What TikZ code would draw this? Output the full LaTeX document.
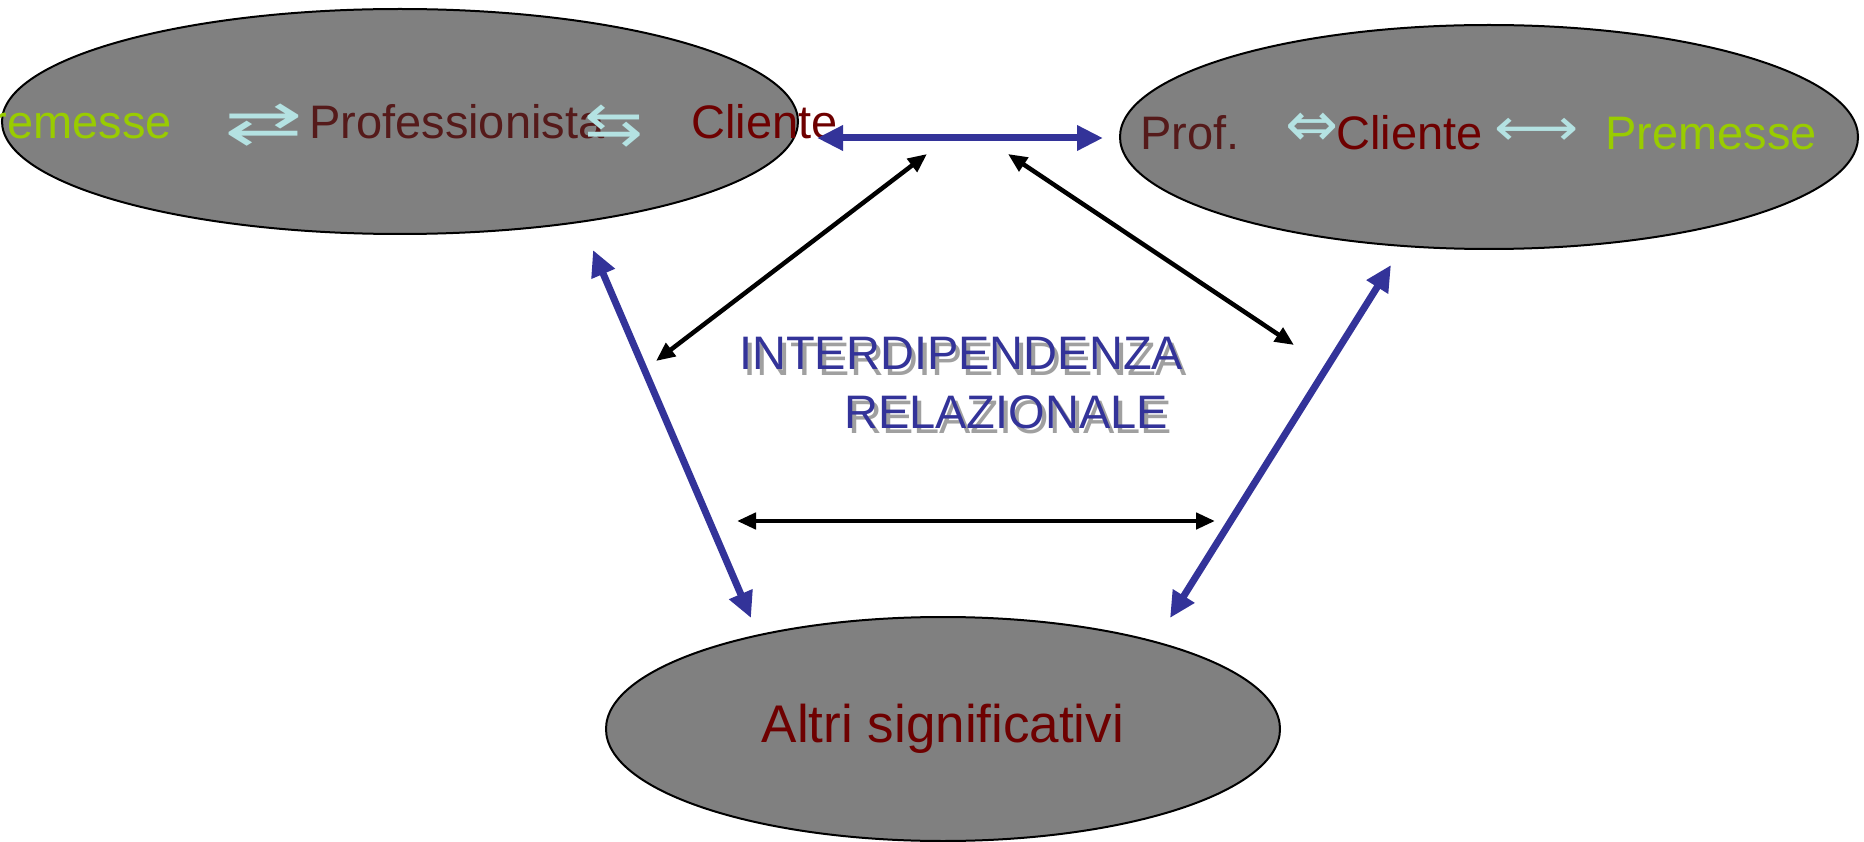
\documentclass[tikz,border=0pt]{standalone}
\usepackage{fontspec}
\setmainfont{Liberation Sans}
\newfontfamily\arrowfont{DejaVu Sans}
\usetikzlibrary{shapes.geometric}
\usetikzlibrary{arrows.meta}
\definecolor{ovalgray}{RGB}{128,128,128}
\definecolor{premgreen}{RGB}{153,204,0}
\definecolor{profred}{RGB}{85,26,26}
\definecolor{clired}{RGB}{110,0,0}
\definecolor{linkcyan}{RGB}{180,226,226}
\definecolor{relblue}{RGB}{51,51,153}
\definecolor{shadowgray}{RGB}{160,160,160}
\tikzset{
	oval/.style={ellipse, draw=black, line width=2pt, fill=ovalgray, inner sep=0pt},
	word/.style={anchor=base west, inner sep=0pt, font=\fontsize{47}{56}\selectfont},
	link/.style={inner sep=0pt, text=linkcyan, font=\arrowfont\fontsize{47}{56}\selectfont},
	bluelink/.style={draw=relblue, line width=7pt, {Triangle[length=26pt,width=24pt]}-{Triangle[length=26pt,width=24pt]}},
	blacklink/.style={draw=black, line width=4.5pt, {Triangle[length=19pt,width=16pt]}-{Triangle[length=19pt,width=16pt]}}
}
\begin{document}
\begin{tikzpicture}[x=1pt,y=-1pt]
		\useasboundingbox (0,0) rectangle (1864,842);
		% Ovals:
		\node[oval, minimum width=796pt, minimum height=225pt] (profoval) at (400,121.5){};
		\node[oval, minimum width=738pt, minimum height=224pt] (clioval) at (1489,137){};
		\node[oval, minimum width=674pt, minimum height=224pt, text=clired, font=\fontsize{53}{60}\selectfont] (altri) at (943,729){Altri significativi};
		% Texts in the left oval:
		\node[word, text=premgreen] (prem1) at (-40,139){Premesse};
		\node[link] (lk1) at (264,125){\scalebox{2.0}[1.25]{⇄}};
		\node[word, text=profred] (prof1) at (309,139){Professionista};
		\node[link] (lk2) at (614,126){\scalebox{1.5}[1.25]{⇆}};
		\node[word, text=clired] (cli1) at (691,139){Cliente};
		% Texts in the right oval:
		\node[word, text=profred] (prof2) at (1140,150){Prof.};
		\node[link] (lk3) at (1312,130){\scalebox{1.35}{⇔}};
		\node[word, text=clired] (cli2) at (1336,150){Cliente};
		\node[link] (lk4) at (1537,132){\scalebox{1.25}[1.1]{⟷}};
		\node[word, text=premgreen] (prem2) at (1605,150){Premesse};
		% Title with shadow:
		\node[word, text=shadowgray] (shadow1) at (743,375){INTERDIPENDENZA};
		\node[word, text=relblue] (title1) at (739,370){INTERDIPENDENZA};
		\node[word, text=shadowgray] (shadow2) at (848,433){RELAZIONALE};
		\node[word, text=relblue] (title2) at (844,428){RELAZIONALE};
		% Ends of the connectors:
		\coordinate (topL) at (817,138);
		\coordinate (topR) at (1103,138);
		\coordinate (midTL) at (927,154);
		\coordinate (midBL) at (656,361);
		\coordinate (midTR) at (1008,154);
		\coordinate (midBR) at (1294,345);
		\coordinate (lowL) at (737,521);
		\coordinate (lowR) at (1215,521);
		\coordinate (sideTL) at (593,250);
		\coordinate (sideBL) at (751,618);
		\coordinate (sideTR) at (1391,265);
		\coordinate (sideBR) at (1170,618);
		% Connectors:
		\draw[bluelink] (topL) -- (topR);
		\draw[blacklink] (midTL) -- (midBL);
		\draw[blacklink] (midTR) -- (midBR);
		\draw[blacklink] (lowL) -- (lowR);
		\draw[bluelink] (sideTL) -- (sideBL);
		\draw[bluelink] (sideTR) -- (sideBR);
	\end{tikzpicture}
\end{document}
